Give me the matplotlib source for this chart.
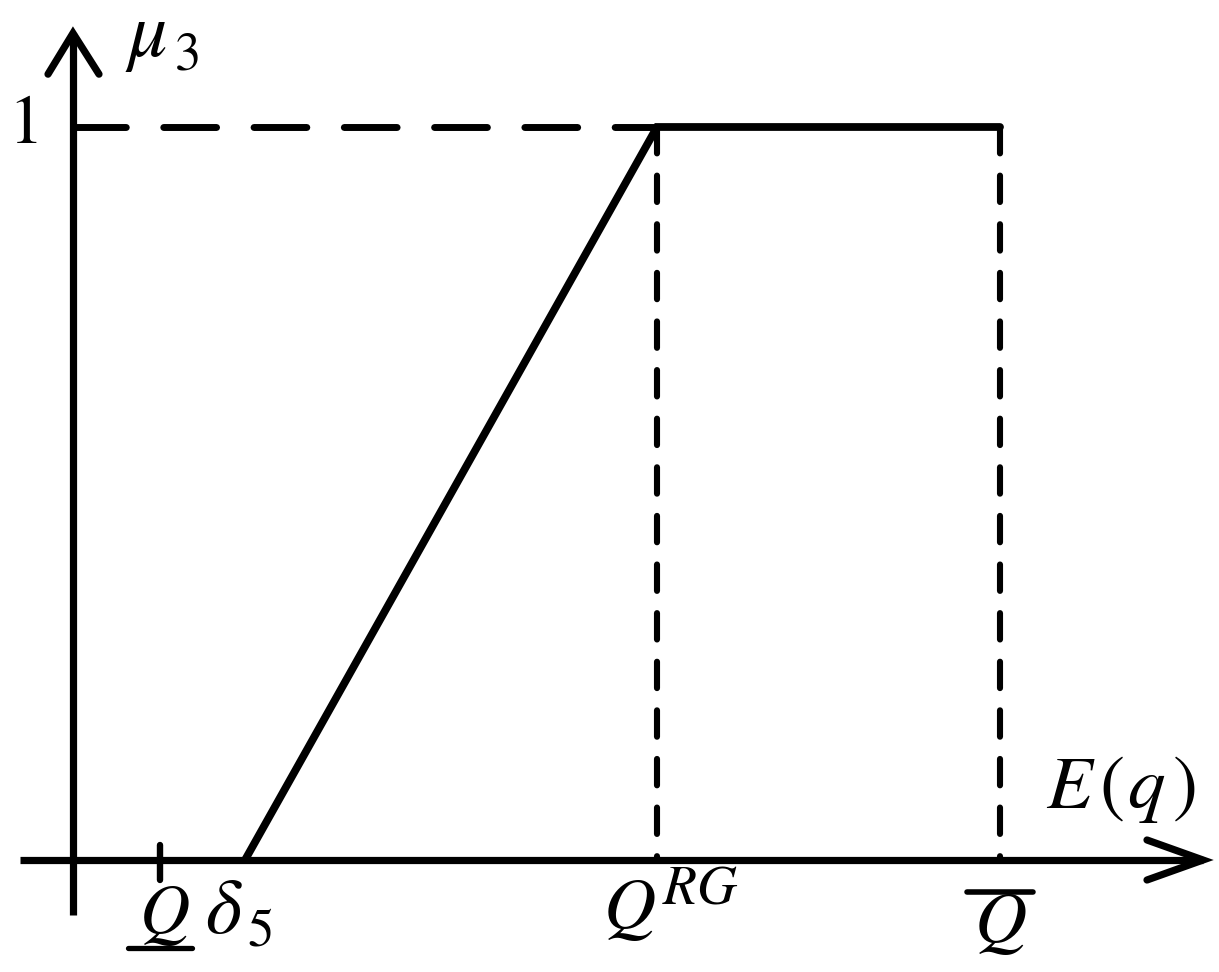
import matplotlib
matplotlib.use("Agg")
import matplotlib.pyplot as plt

plt.rcParams['mathtext.fontset'] = 'stix'
plt.rcParams['font.family'] = ['STIXGeneral', 'DejaVu Serif']
plt.rcParams['lines.scale_dashes'] = False

# ---- data (x in horizontal units, y = membership mu_3) ----
x_Q_low = 160      # underline Q
x_delta5 = 245     # delta_5
x_QRG = 657        # Q^{RG}
x_Q_bar = 1000     # overline Q
mu_levels = [0.0, 1.0]

curve_x = [x_delta5, x_QRG, x_Q_bar]
curve_y = [0.0, 1.0, 1.0]

x_axis_range = [20, 1203]
y_axis_range = [-0.075, 1.128]
y_axis_x = 73

# ---- figure ----
W, H = 1219, 972
fig = plt.figure(figsize=(W / 100, H / 100), dpi=100)
ax = fig.add_axes([0, 0, 1, 1])
ax.set_xlim(0, W)
pix_per_unit = 733.0
y0_pix = 860.0
ax.set_ylim(-(H - y0_pix) / pix_per_unit, y0_pix / pix_per_unit)
ax.axis('off')


def py(p):
    return (y0_pix - p) / pix_per_unit

k = 'black'
# axes
ax.plot(x_axis_range, [0, 0], color=k, lw=5.2, solid_capstyle='butt')
ax.plot([y_axis_x, y_axis_x], y_axis_range, color=k, lw=5.2, solid_capstyle='butt')
# arrowheads (open chevrons)
ax.plot([y_axis_x - 25, y_axis_x, y_axis_x + 26],
        [y_axis_range[1] - 41 / pix_per_unit, y_axis_range[1], y_axis_range[1] - 41 / pix_per_unit],
        color=k, lw=5.2, solid_capstyle='round', solid_joinstyle='miter')
ax.plot([x_axis_range[1] - 56, x_axis_range[1], x_axis_range[1] - 56],
        [20 / pix_per_unit, 0, -20 / pix_per_unit],
        color=k, lw=5.2, solid_capstyle='round', solid_joinstyle='miter')

# dashed guides
ax.plot([y_axis_x, x_QRG], [mu_levels[1], mu_levels[1]], color=k, lw=5.0,
        dashes=(38, 27), dash_capstyle='round')
for xv in [x_QRG, x_Q_bar]:
    ax.plot([xv, xv], [mu_levels[1], mu_levels[0]], color=k, lw=4.4,
            dashes=(19, 16), dash_capstyle='round')

# membership curve
ax.plot(curve_x, curve_y, color=k, lw=5.6, solid_capstyle='round', solid_joinstyle='miter')

# tick at underline Q
ax.plot([x_Q_low, x_Q_low], [py(845), py(880)], color=k, lw=4.6, solid_capstyle='round')

fs = 50
sub = 38
ax.text(23, py(127), r'$\mathrm{1}$', fontsize=fs, ha='center', va='center')
# mu_3
ax.text(125, py(56), r'$\mu$', fontsize=fs + 6, ha='left', va='baseline')
ax.text(174, py(70), r'$\mathrm{3}$', fontsize=sub, ha='left', va='baseline')
# E(q)
ax.text(1046, py(808), r'$E$', fontsize=fs + 4, ha='left', va='baseline')
ax.text(1099, py(808), r'$\mathrm{(}$', fontsize=fs + 4, ha='left', va='baseline')
ax.text(1127, py(808), r'$q$', fontsize=fs + 4, ha='left', va='baseline')
ax.text(1172, py(808), r'$\mathrm{)}$', fontsize=fs + 4, ha='left', va='baseline')
# overline Q
ax.text(x_Q_bar, py(942), r'$Q$', fontsize=fs + 2, ha='center', va='baseline')
ax.plot([x_Q_bar - 33, x_Q_bar + 33], [py(892), py(892)], color=k, lw=4.0, solid_capstyle='round')
# Q^RG
ax.text(603, py(928), r'$Q$', fontsize=fs + 2, ha='left', va='baseline')
ax.text(662, py(903), r'$RG$', fontsize=sub + 2, ha='left', va='baseline')
# underline Q
ax.text(x_Q_low + 4, py(933), r'$Q$', fontsize=fs, ha='center', va='baseline')
ax.plot([x_Q_low - 32, x_Q_low + 32], [py(948), py(948)], color=k, lw=3.8, solid_capstyle='round')
# delta_5
ax.text(205, py(933), r'$\delta$', fontsize=fs + 6, ha='left', va='baseline')
ax.text(247, py(945), r'$\mathrm{5}$', fontsize=sub, ha='left', va='baseline')

fig.savefig('out.png', dpi=100)
